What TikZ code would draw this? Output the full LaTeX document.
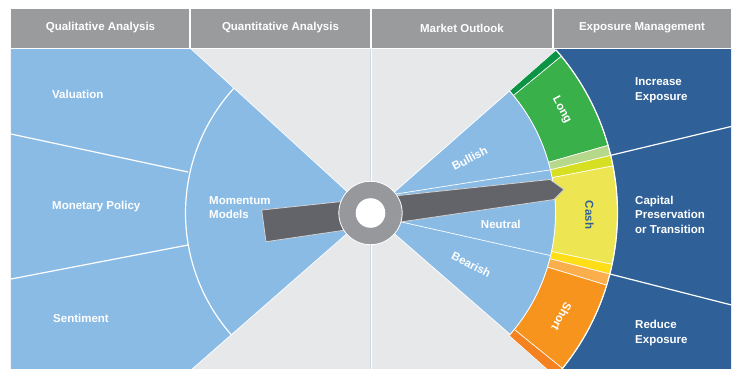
\documentclass[tikz,border=0pt]{standalone}
\usepackage{fontspec}
\setmainfont{Liberation Sans}
\definecolor{hdrgray}{HTML}{9A9B9D}
\definecolor{bodygray}{HTML}{E7E8EA}
\definecolor{lblue}{HTML}{8ABBE5}
\definecolor{dblue}{HTML}{2F6198}
\definecolor{dgreen}{HTML}{0A9444}
\definecolor{mgreen}{HTML}{39B04A}
\definecolor{lgreen}{HTML}{B5D88A}
\definecolor{ygreen}{HTML}{D7DF23}
\definecolor{cashy}{HTML}{EDE551}
\definecolor{goldy}{HTML}{FFDE17}
\definecolor{lorange}{HTML}{FBAF4C}
\definecolor{morange}{HTML}{F7941E}
\definecolor{dorange}{HTML}{F58220}
\definecolor{needlec}{HTML}{626469}
\definecolor{needleedge}{HTML}{D0D2D3}
\definecolor{hubc}{HTML}{97989B}
\begin{document}
\begin{tikzpicture}[x=1pt,y=1pt,
  txt/.style={text=white, font=\bfseries\fontsize{11.5}{14.5}\selectfont, inner sep=0pt},
  lefttxt/.style={txt, align=left, anchor=west},
  hdrtxt/.style={txt, anchor=center},
  divline/.style={white, line width=1.2pt},
  thinline/.style={white, line width=0.7pt}
]
\useasboundingbox (-370.5,-155) rectangle (365.5,213);
\newcommand{\ringseg}[3]{%
  \fill[#1, draw=white, line width=0.6pt] (#2:185) arc[start angle=#2, end angle=#3, radius=185]
    -- (#3:247) arc[start angle=#3, end angle=#2, radius=247] -- cycle;}
\begin{scope}
\clip (-359.5,-155) rectangle (360.5,165);
% body
\fill[bodygray] (-359.5,-160) rectangle (360.5,165);
\draw[thinline] (0.5,165) -- (0.5,-160);
% left fan
\fill[lblue] (-359.5,165) -- (-180.5,165) -- (0,0) -- (-177.5,-155) -- (-182.9,-160) -- (-359.5,-160) -- cycle;
\draw[thinline] (-180.5,165) -- (0,0) -- (-182.9,-160);
\draw[divline] (-359.5,79) -- (-182.5,41);
\draw[divline] (-359.5,-66) -- (-182.5,-32);
\draw[divline] (137.6:185) arc[start angle=137.6, end angle=221.1, radius=185];
% dark blue
\begin{scope}
\clip (0,-155) rectangle (360.5,165);
\fill[dblue, even odd rule] (0,-175) rectangle (380,185) (0,0) circle (247);
\end{scope}
\draw[divline] (13.5:247) -- (361,86.6);
\draw[divline] (-14.3:247) -- (361,-92);
% ring
\ringseg{dgreen}{39.4}{41.3}
\ringseg{mgreen}{15.9}{39.4}
\ringseg{lgreen}{13.5}{15.9}
\ringseg{ygreen}{11}{13.5}
\ringseg{cashy}{-12}{11}
\ringseg{goldy}{-14.3}{-12}
\ringseg{lorange}{-17}{-14.3}
\ringseg{morange}{-39}{-17}
\ringseg{dorange}{-41.5}{-39}
\draw[divline] (-41.5:247) arc[start angle=-41.5, end angle=41.3, radius=247];
% right fan
\fill[lblue, draw=white, line width=0.8pt] (0,0) -- (-41:185) arc[start angle=-41, end angle=41.3, radius=185] -- cycle;
\draw[thinline] (0,15) -- (13.5:185);
\draw[thinline] (0,-2) -- (-13.3:185);
\end{scope}
% texts
\node[lefttxt] (val) at (-318.5,119) {Valuation};
\node[lefttxt] (mon) at (-318.5,6) {Monetary Policy};
\node[lefttxt] (sen) at (-317.5,-105) {Sentiment};
\node[lefttxt] (mom) at (-161.5,5.5) {Momentum\\Models};
\node[lefttxt] (inc) at (264.5,122.8) {Increase\\Exposure};
\node[lefttxt] (cap) at (264.5,-1.7) {Capital\\Preservation\\or Transition};
\node[lefttxt] (red) at (264.5,-119.8) {Reduce\\Exposure};
\node[txt, rotate=28] (bull) at (99.2,54.7) {Bullish};
\node[txt] (neu) at (130.3,-11) {Neutral};
\node[txt, rotate=-27] (bear) at (100.8,-51.8) {Bearish};
\node[txt, rotate=-62] (long) at (191.2,103) {Long};
\node[txt, rotate=-90, text=dblue] (cash) at (219,-2) {Cash};
\node[txt, rotate=-118] (short) at (191.2,-103.7) {Short};
% needle
\fill[needlec, draw=needleedge, line width=0.8pt] (-108.8,3) -- (179.5,33.5) -- (193.5,23.5) -- (183.5,13.5) -- (-104.5,-28.7) -- cycle;
% hub
\fill[hubc, draw=white, line width=0.8pt] (0,0) circle (31.7);
\fill[white] (0,0) circle (14.8);
% header
\fill[hdrgray] (-359.5,165) rectangle (360.5,204);
\draw[thinline] (-359.5,165) -- (360.5,165);
\draw[divline] (-180.5,165) -- (-180.5,204);
\draw[divline] (0.5,165) -- (0.5,204);
\draw[divline] (182.5,165) -- (182.5,204);
\node[hdrtxt] (h1) at (-270,185) {Qualitative Analysis};
\node[hdrtxt] (h2) at (-90,185) {Quantitative Analysis};
\node[hdrtxt] (h3) at (91.5,185) {Market Outlook};
\node[hdrtxt] (h4) at (271.5,185) {Exposure Management};
\end{tikzpicture}
\end{document}
